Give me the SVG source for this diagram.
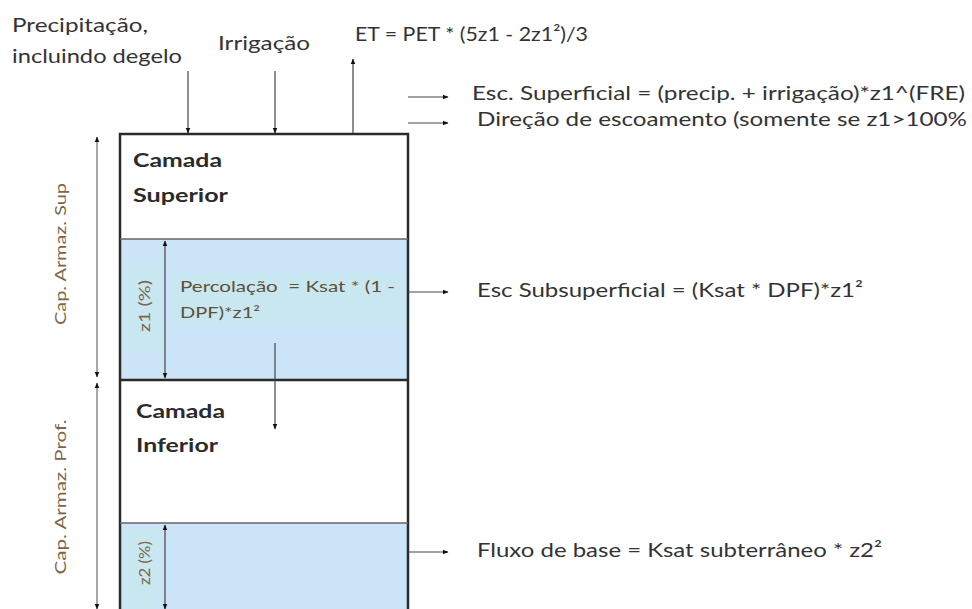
<svg xmlns="http://www.w3.org/2000/svg" width="972" height="609" viewBox="0 0 972 609">
<defs>
<style>
.t{font-family:Lato,"Open Sans","Liberation Sans",sans-serif;fill:#333;font-size:20px}
.b{font-family:Lato,"Open Sans","Liberation Sans",sans-serif;font-weight:bold;fill:#2b2b2b;font-size:19px}
.p{font-family:Lato,"Liberation Sans",sans-serif;fill:#5e5238;font-size:15px}
.r{font-family:Lato,"Liberation Sans",sans-serif;fill:#7d6645;font-size:15px}
.ln{stroke:#444;stroke-width:1.2;fill:none}
.gl{stroke:#8a8a8a;stroke-width:1.5;fill:none}
</style>
<marker id="ah" viewBox="0 0 10 10" refX="9" refY="5" markerWidth="6" markerHeight="6" orient="auto-start-reverse" markerUnits="userSpaceOnUse">
<path d="M0,1 L10,5 L0,9 z" fill="#111"/>
</marker>
</defs>
<rect width="972" height="609" fill="#fff"/>

<g id="box">
<rect x="120" y="239" width="288" height="141" fill="#cce4f8"/>
<rect x="120" y="523" width="288" height="90" fill="#cce4f8"/>
<rect x="123" y="262" width="40" height="90" fill="#c8e7f1"/>
<rect x="170" y="273" width="237" height="52" fill="#c8e7f1"/>
<rect x="123" y="528" width="34" height="81" fill="#c8e7f1"/>
<path d="M120,612 V134 H408 V612" stroke="#2a2a2a" stroke-width="2.5" fill="none"/>
<line x1="120" y1="239" x2="408" y2="239" stroke="#666" stroke-width="1.5"/>
<line x1="120" y1="380" x2="408" y2="380" stroke="#2a2a2a" stroke-width="2.5"/>
<line x1="120" y1="523" x2="408" y2="523" stroke="#666" stroke-width="1.5"/>
</g>

<g id="upper-layer">
<text class="b" x="133" y="167" textLength="89" lengthAdjust="spacingAndGlyphs">Camada</text>
<text class="b" x="133" y="202" textLength="95" lengthAdjust="spacingAndGlyphs">Superior</text>
</g>
<g id="lower-layer">
<text class="b" x="136" y="418" textLength="89" lengthAdjust="spacingAndGlyphs">Camada</text>
<text class="b" x="136" y="452" textLength="82" lengthAdjust="spacingAndGlyphs">Inferior</text>
</g>

<g id="percolation">
<text class="p" x="180" y="292" textLength="215" lengthAdjust="spacingAndGlyphs" xml:space="preserve">Percolação  = Ksat * (1 -</text>
<text class="p" x="180" y="318" textLength="80" lengthAdjust="spacingAndGlyphs">DPF)*z1²</text>
</g>

<g id="labels-left">
<text class="r" transform="translate(66,254) rotate(-90)" text-anchor="middle" textLength="142" lengthAdjust="spacingAndGlyphs">Cap. Armaz. Sup</text>
<text class="r" transform="translate(66,497) rotate(-90)" text-anchor="middle" textLength="155" lengthAdjust="spacingAndGlyphs">Cap. Armaz. Prof.</text>
<text class="r" transform="translate(150,306) rotate(-90)" text-anchor="middle" textLength="52" lengthAdjust="spacingAndGlyphs">z1 (%)</text>
<text class="r" transform="translate(150,563) rotate(-90)" text-anchor="middle" textLength="44" lengthAdjust="spacingAndGlyphs">z2 (%)</text>
</g>

<g id="top-labels">
<text class="t" x="12" y="32" textLength="136" lengthAdjust="spacingAndGlyphs">Precipitação,</text>
<text class="t" x="12" y="63" textLength="170" lengthAdjust="spacingAndGlyphs">incluindo degelo</text>
<text class="t" x="218" y="50" textLength="92" lengthAdjust="spacingAndGlyphs">Irrigação</text>
<text class="t" x="355" y="41" textLength="233" lengthAdjust="spacingAndGlyphs">ET = PET * (5z1 - 2z1²)/3</text>
</g>

<g id="right-labels">
<text class="t" x="472" y="100" textLength="493" lengthAdjust="spacingAndGlyphs">Esc. Superficial = (precip. + irrigação)*z1^(FRE)</text>
<text class="t" x="477" y="126" textLength="490" lengthAdjust="spacingAndGlyphs">Direção de escoamento (somente se z1&gt;100%</text>
<text class="t" x="477" y="297" textLength="386" lengthAdjust="spacingAndGlyphs">Esc Subsuperficial = (Ksat * DPF)*z1²</text>
<text class="t" x="477" y="557" textLength="405" lengthAdjust="spacingAndGlyphs">Fluxo de base = Ksat subterrâneo * z2²</text>
</g>

<g id="connectors">
<line class="ln" x1="188" y1="71" x2="188" y2="133" marker-end="url(#ah)"/>
<line class="ln" x1="275" y1="71" x2="275" y2="133" marker-end="url(#ah)"/>
<line class="ln" x1="353" y1="133" x2="353" y2="59" marker-end="url(#ah)"/>
<line class="ln" x1="408" y1="97" x2="448" y2="97" marker-end="url(#ah)"/>
<line class="ln" x1="408" y1="123" x2="448" y2="123" marker-end="url(#ah)"/>
<line class="ln" x1="408" y1="292" x2="448" y2="292" marker-end="url(#ah)"/>
<line class="ln" x1="408" y1="552" x2="448" y2="552" marker-end="url(#ah)"/>
<line class="ln" x1="275" y1="343" x2="275" y2="429" marker-end="url(#ah)"/>
<line class="ln" x1="165" y1="241" x2="165" y2="378" marker-start="url(#ah)" marker-end="url(#ah)"/>
<line class="ln" x1="165" y1="525" x2="165" y2="609" marker-start="url(#ah)" marker-end="url(#ah)"/>
<line class="gl" x1="97" y1="137" x2="97" y2="377" marker-start="url(#ah)" marker-end="url(#ah)"/>
<line class="gl" x1="97" y1="383" x2="97" y2="609" marker-start="url(#ah)" marker-end="url(#ah)"/>
</g>
</svg>
